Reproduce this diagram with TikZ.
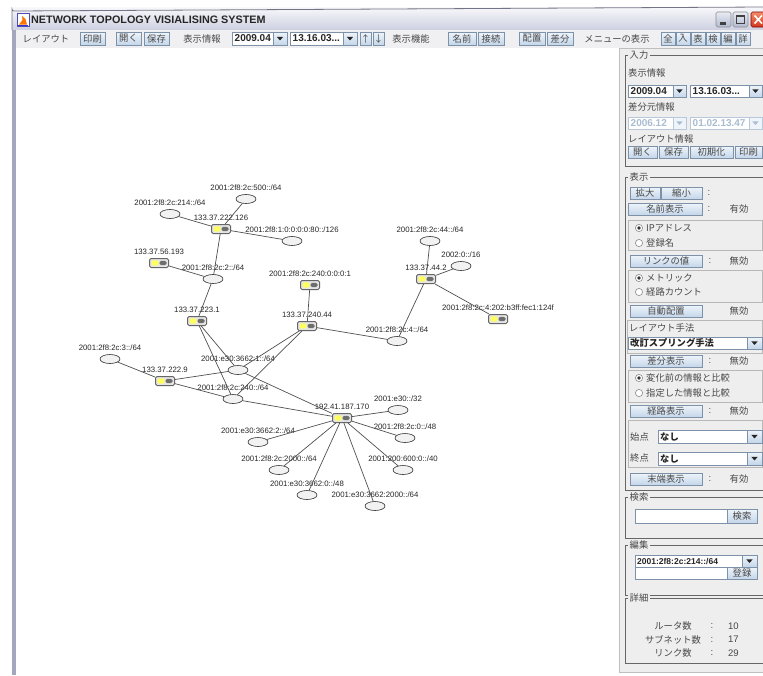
\documentclass[tikz,border=0pt]{standalone}
\usepackage{fontspec}
\setmainfont{Liberation Sans}
\newfontfamily\jp{Noto Sans CJK JP}
\newfontfamily\lib{Liberation Sans}
\usetikzlibrary{shapes.geometric}

\definecolor{panelbg}{HTML}{EEEEEE}
\definecolor{toolbg}{HTML}{F0F0F2}
\definecolor{btnbd}{HTML}{7D91A8}
\definecolor{btntop}{HTML}{EEF4FA}
\definecolor{btnbot}{HTML}{C4D6EA}
\definecolor{framec}{HTML}{666666}
\definecolor{uitext}{HTML}{484848}
\definecolor{edgec}{HTML}{505050}
\definecolor{ryellow}{HTML}{FFFF60}
\definecolor{rgray}{HTML}{6E6E6E}
\definecolor{winborder}{HTML}{A4A6BE}
\definecolor{titletop}{HTML}{F8F8FB}
\definecolor{titlebot}{HTML}{CDD0E0}
\definecolor{discol}{HTML}{A9BCD1}
\definecolor{disbd}{HTML}{B8C8D8}
\definecolor{closetop}{HTML}{F58A6A}
\definecolor{closebot}{HTML}{D2381E}
\definecolor{wbtop}{HTML}{E8ECF4}
\definecolor{wbbot}{HTML}{B2BAD2}

\tikzset{
  jt/.style={font=\jp\fontsize{9.3}{11}\selectfont, text=uitext, inner sep=0},
  lt/.style={font=\lib\fontsize{9.5}{11}\selectfont, text=uitext, inner sep=0},
  cbt/.style={font=\lib\bfseries\fontsize{10}{11}\selectfont, text=black!85, inner sep=0, anchor=west},
  btnbox/.style={draw=btnbd, top color=btntop, bottom color=btnbot, line width=0.6pt},
  fieldbox/.style={draw=btnbd, fill=white, line width=0.6pt},
  gframe/.style={draw=framec, line width=0.9pt},
  ibox/.style={draw=black!28, line width=0.6pt},
  subnet/.style={ellipse, draw=black!80, fill=black!5, line width=0.6pt,
    minimum width=20pt, minimum height=9pt, inner sep=0},
  router/.style={rectangle, rounded corners=1.5pt, draw=black!60, line width=1pt,
    fill=black!10, minimum width=19pt, minimum height=9pt, inner sep=0,
    path picture={
      \fill[ryellow] ([xshift=2pt,yshift=-2.6pt]path picture bounding box.west)
        rectangle ([xshift=-0.4pt,yshift=2.6pt]path picture bounding box.center);
      \fill[rgray] ([xshift=0.6pt,yshift=-2.2pt]path picture bounding box.center)
        rectangle ([xshift=-2pt,yshift=2.2pt]path picture bounding box.east);
    }},
  lbl/.style={font=\lib\fontsize{7.8}{9}\selectfont, text=black!85, inner sep=0.5pt},
  link/.style={draw=edgec, line width=0.7pt},
}

\newcommand\darr[2]{\fill[black!85] ({#1-3.2},{#2-1.6}) -- ({#1+3.2},{#2-1.6}) -- ({#1},{#2+1.9}) -- cycle;}
\newcommand\ubtn[6]{%
  \path[btnbox] (#2,#3) rectangle (#4,#5);
  \node[jt] (#1) at ({(#2+#4)/2},{(#3+#5)/2}) {#6};}
\newcommand\ucombo[7]{%
  \path[fieldbox] (#2,#3) rectangle (#4,#6);
  \path[btnbox] (#4,#3) rectangle (#5,#6);
  \darr{(#4+#5)/2}{(#3+#6)/2}
  \node[cbt] (#1) at ({#2+2.5},{(#3+#6)/2}) {#7};}
\newcommand\udcombo[7]{%
  \path[draw=disbd, fill=white, line width=0.6pt] (#2,#3) rectangle (#4,#6);
  \path[draw=disbd, fill=btntop, line width=0.6pt] (#4,#3) rectangle (#5,#6);
  \fill[discol] ({(#4+#5)/2-3.2},{(#3+#6)/2-1.6}) -- ({(#4+#5)/2+3.2},{(#3+#6)/2-1.6}) -- ({(#4+#5)/2},{(#3+#6)/2+1.9}) -- cycle;
  \node[cbt, text=discol] (#1) at ({#2+2.5},{(#3+#6)/2}) {#7};}
\newcommand\uradio[5]{%
  \draw[draw=black!45, fill=white, line width=0.6pt] (#2,#3) circle[radius=3.6];
  \ifnum#4=1 \fill[black!80] (#2,#3) circle[radius=1.8];\fi
  \node[jt, anchor=west] (#1) at ({#2+7},#3) {#5};}
\newcommand\ugroup[4]{%
  \draw[gframe] (625,#2) rectangle (775,#3);
  \node[jt, fill=panelbg, inner xsep=1.5pt, inner ysep=0.5pt, anchor=west] (#1) at (628,#2) {#4};}

\begin{document}
\begin{tikzpicture}[x=1pt,y=-1pt]
\useasboundingbox (0,0) rectangle (763,675);
\clip (0,0) rectangle (763,675);
\fill[white] (0,0) rectangle (763,675);

% ---------- window frame ----------
\shade[top color=titletop, bottom color=titlebot] (12,7) rectangle (763,30);
\draw[winborder!70!black, line width=0.8pt] (12,30) -- (12,9) arc[start angle=180, end angle=90, radius=2] -- (763,7);
\fill[winborder] (12,30) rectangle (15.5,675);
\fill[toolbg] (15.5,30) rectangle (763,48);
\fill[white] (15.5,48) rectangle (619,675);

% title icon
\draw[fill=white, draw=blue!40!gray, line width=0.6pt] (17,13) rectangle (29,26);
\fill[orange!90!red] (19,24.5) -- (27,24.5) -- (25.5,19) -- (22,16) -- (22.5,20) -- cycle;
\fill[blue!60!gray] (18,24.5) rectangle (28,25.5);
\node[font=\lib\bfseries\fontsize{10.8}{12}\selectfont, text=black!85, anchor=west, inner sep=0] (title) at (31,19.5) {NETWORK TOPOLOGY VISIALISING SYSTEM};

% window buttons
\path[draw=black!45, top color=wbtop, bottom color=wbbot, rounded corners=1.5pt, line width=0.6pt] (716,12) rectangle (731,27);
\fill[black!75] (720,22) rectangle (726,24.5);
\path[draw=black!45, top color=wbtop, bottom color=wbbot, rounded corners=1.5pt, line width=0.6pt] (733,12) rectangle (748,27);
\draw[black!75, line width=0.8pt] (736.5,15.5) rectangle (744.5,23.5);
\draw[black!75, line width=1.6pt] (736.5,16) -- (744.5,16);
\path[draw=red!50!black, top color=closetop, bottom color=closebot, rounded corners=1.5pt, line width=0.6pt] (751,12) rectangle (767,27);
\draw[white, line width=1.6pt] (754.5,15.5) -- (762,23.5) (754.5,23.5) -- (762,15.5);

% ---------- toolbar ----------
\node[jt] (tLayout) at (46,38.5) {レイアウト};
\ubtn{tPrint}{80}{32}{105}{45}{印刷}
\ubtn{tOpen}{116}{32}{141}{45}{開く}
\ubtn{tSave}{144}{32}{169}{45}{保存}
\node[jt] (tDisp) at (202,38.5) {表示情報};
\ucombo{tCa}{232}{32}{273}{287}{45}{2009.04}
\ucombo{tCb}{290}{32}{343}{357}{45}{13.16.03...}
\ubtn{tUp}{360}{32}{371}{45}{↑}
\ubtn{tDown}{373}{32}{384}{45}{↓}
\node[jt] (tFunc) at (411,38.5) {表示機能};
\ubtn{tName}{448}{32}{476}{45}{名前}
\ubtn{tConn}{478}{32}{504}{45}{接続}
\ubtn{tPlace}{519}{32}{545}{45}{配置}
\ubtn{tDiff}{547}{32}{573}{45}{差分}
\node[jt] (tMenu) at (617,38.5) {メニューの表示};
\ubtn{tAll}{661}{32}{675}{45}{全}
\ubtn{tIn}{676}{32}{690}{45}{入}
\ubtn{tTab}{691}{32}{705}{45}{表}
\ubtn{tSrch}{706}{32}{720}{45}{検}
\ubtn{tEd}{721}{32}{735}{45}{編}
\ubtn{tDet}{736}{32}{750}{45}{詳}

% ---------- right panel ----------
\fill[panelbg] (619,48) rectangle (763,672);
\draw[black!25, line width=0.6pt] (763,48) -- (619,48) -- (619,672) -- (763,672);

\ugroup{gIn}{55}{166}{入力}
\node[jt, anchor=west] (lDisp) at (628,73) {表示情報};
\ucombo{pCa}{628}{85}{673}{686}{97}{2009.04}
\ucombo{pCb}{690}{85}{749}{762}{97}{13.16.03...}
\node[jt, anchor=west] (lDiff) at (628,107) {差分元情報};
\udcombo{pDa}{628}{117}{673}{686}{129}{2006.12}
\udcombo{pDb}{690}{117}{749}{762}{129}{01.02.13.47}
\node[jt, anchor=west] (lLay) at (628,139) {レイアウト情報};
\ubtn{pOpen}{628}{146}{657}{158}{開く}
\ubtn{pSave}{659}{146}{688}{158}{保存}
\ubtn{pInit}{690}{146}{733}{158}{初期化}
\ubtn{pPrint}{735}{146}{762}{158}{印刷}

\ugroup{gShow}{177}{490}{表示}
\ubtn{pZin}{630}{187}{660}{199}{拡大}
\ubtn{pZout}{661}{187}{702}{199}{縮小}
\node[lt] (ca) at (709,193) {:};
\ubtn{pNameD}{628}{203}{702}{215}{名前表示}
\node[lt] (cb) at (709,209) {:};
\node[jt] (va) at (739,209) {有効};
\draw[ibox] (628,220) rectangle (762,250);
\uradio{rIP}{639}{228}{1}{IPアドレス}
\uradio{rReg}{639}{243}{0}{登録名}
\ubtn{pLink}{630}{255}{702}{267}{リンクの値}
\node[lt] (cc) at (710,261) {:};
\node[jt] (vb) at (739,261) {無効};
\draw[ibox] (628,270) rectangle (762,302);
\uradio{rMet}{639}{278}{1}{メトリック}
\uradio{rCnt}{639}{292}{0}{経路カウント}
\ubtn{pAuto}{630}{305}{702}{317}{自動配置}
\node[jt] (vc) at (739,311) {無効};
\draw[ibox] (627,320) rectangle (762,353);
\node[jt, anchor=west] (lMeth) at (629,328) {レイアウト手法};
\path[fieldbox] (628,337) rectangle (747,349);
\path[btnbox] (747,337) rectangle (762,349);
\darr{754.5}{343}
\node[jt, font=\jp\bfseries\fontsize{9.3}{11}\selectfont, text=black!85, anchor=west] (mMeth) at (630,343) {改訂スプリング手法};
\ubtn{pDiffD}{630}{355}{702}{367}{差分表示}
\node[lt] (cd) at (710,361) {:};
\node[jt] (vd) at (739,361) {無効};
\draw[ibox] (628,370) rectangle (762,402);
\uradio{rBef}{639}{378}{1}{変化前の情報と比較}
\uradio{rSpec}{639}{393}{0}{指定した情報と比較}
\ubtn{pRoute}{630}{405}{702}{417}{経路表示}
\node[lt] (ce) at (710,411) {:};
\node[jt] (ve) at (739,411) {無効};
\draw[ibox] (628,420) rectangle (762,467);
\node[jt, anchor=west] (lStart) at (630,437) {始点};
\path[fieldbox] (658,430) rectangle (747,443);
\path[btnbox] (747,430) rectangle (762,443);
\darr{754.5}{436.5}
\node[jt, font=\jp\bfseries\fontsize{9.3}{11}\selectfont, text=black!85, anchor=west] (mStart) at (660,436.5) {なし};
\node[jt, anchor=west] (lEnd) at (630,458) {終点};
\path[fieldbox] (658,452) rectangle (747,465);
\path[btnbox] (747,452) rectangle (762,465);
\darr{754.5}{458.5}
\node[jt, font=\jp\bfseries\fontsize{9.3}{11}\selectfont, text=black!85, anchor=west] (mEnd) at (660,458.5) {なし};
\ubtn{pTerm}{630}{473}{702}{485}{末端表示}
\node[lt] (cf) at (710,479) {:};
\node[jt] (vf) at (739,479) {有効};

\ugroup{gSearch}{497}{538}{検索}
\path[fieldbox] (635,509) rectangle (727,523);
\ubtn{pSearch}{727}{509}{757}{523}{検索}

\ugroup{gEdit}{545}{595}{編集}
\path[fieldbox] (635,555) rectangle (742,567);
\path[btnbox] (742,555) rectangle (757,567);
\darr{749.5}{561}
\node[cbt, font=\lib\bfseries\fontsize{8.5}{10}\selectfont] (mEdit) at (637,561) {2001:2f8:2c:214::/64};
\path[fieldbox] (635,567) rectangle (727,579);
\ubtn{pReg}{727}{567}{757}{579}{登録}

\ugroup{gDet}{598}{663}{詳細}
\node[jt] (dRouter) at (673,626) {ルータ数};
\node[lt] (dca) at (712,626) {:};
\node[lt, anchor=west] (dva) at (728,626) {10};
\node[jt] (dSub) at (673,639.5) {サブネット数};
\node[lt] (dcb) at (712,639.5) {:};
\node[lt, anchor=west] (dvb) at (728,639.5) {17};
\node[jt] (dLink) at (673,653) {リンク数};
\node[lt] (dcc) at (712,653) {:};
\node[lt, anchor=west] (dvc) at (728,653) {29};

% ---------- topology ----------
\node[router, label={[lbl,label distance=3pt]above:133.37.222.126}] (r1) at (221,229) {};
\node[router, label={[lbl,label distance=3pt]above:133.37.56.193}] (r2) at (159,263) {};
\node[router, label={[lbl,label distance=3pt]above:2001:2f8:2c:240:0:0:0:1}] (r3) at (310,285) {};
\node[router, label={[lbl,label distance=3pt]above:133.37.223.1}] (r4) at (197,321) {};
\node[router, label={[lbl,label distance=3pt]above:133.37.240.44}] (r5) at (307,326) {};
\node[router, label={[lbl,label distance=3pt]above:133.37.44.2}] (r6) at (426,279) {};
\node[router, label={[lbl,label distance=3pt]above:2001:2f8:2c:4:202:b3ff:fec1:124f}] (r7) at (498,319) {};
\node[router, label={[lbl,label distance=3pt]above:133.37.222.9}] (r8) at (165,381) {};
\node[router, label={[lbl,label distance=3pt]above:192.41.187.170}] (r9) at (342,418) {};

\node[subnet, label={[lbl,label distance=3pt]above:2001:2f8:2c:500::/64}] (s1) at (246,199) {};
\node[subnet, label={[lbl,label distance=3pt]above:2001:2f8:2c:214::/64}] (s2) at (170,214) {};
\node[subnet, label={[lbl,label distance=3pt]above:2001:2f8:1:0:0:0:0:80::/126}] (s3) at (292,241) {};
\node[subnet, label={[lbl,label distance=3pt]above:2001:2f8:2c:2::/64}] (s4) at (213,279) {};
\node[subnet, label={[lbl,label distance=3pt]above:2001:2f8:2c:44::/64}] (s5) at (430,241) {};
\node[subnet, label={[lbl,label distance=3pt]above:2002:0::/16}] (s6) at (461,266) {};
\node[subnet, label={[lbl,label distance=3pt]above:2001:2f8:2c:4::/64}] (s7) at (397,341) {};
\node[subnet, label={[lbl,label distance=3pt]above:2001:2f8:2c:3::/64}] (s8) at (110,359) {};
\node[subnet, label={[lbl,label distance=3pt]above:2001:e30:3662:1::/64}] (s9) at (238,370) {};
\node[subnet, label={[lbl,label distance=3pt]above:2001:2f8:2c:240::/64}] (s10) at (233,399) {};
\node[subnet, label={[lbl,label distance=3pt]above:2001:e30::/32}] (s11) at (398,410) {};
\node[subnet, label={[lbl,label distance=3pt]above:2001:2f8:2c:0::/48}] (s12) at (405,438) {};
\node[subnet, label={[lbl,label distance=3pt]above:2001:200:600:0::/40}] (s13) at (403,470) {};
\node[subnet, label={[lbl,label distance=3pt]above:2001:e30:3662:2::/64}] (s14) at (258,442) {};
\node[subnet, label={[lbl,label distance=3pt]above:2001:2f8:2c:2000::/64}] (s15) at (279,470) {};
\node[subnet, label={[lbl,label distance=3pt]above:2001:e30:3662:0::/48}] (s16) at (307,495) {};
\node[subnet, label={[lbl,label distance=3pt]above:2001:e30:3662:2000::/64}] (s17) at (375,506) {};

\draw[link] (r1) -- (s1);
\draw[link] (r1) -- (s2);
\draw[link] (r1) -- (s3);
\draw[link] (r1) -- (s4);
\draw[link] (r2) -- (s4);
\draw[link] (s4) -- (r4);
\draw[link] (r4) -- (s9);
\draw[link] (r4) -- (s10);
\draw[link] (r5) -- (s9);
\draw[link] (r5) -- (s10);
\draw[link] (r5) -- (s7);
\draw[link] (r5) -- (r3);
\draw[link] (r6) -- (s5);
\draw[link] (r6) -- (s6);
\draw[link] (r6) -- (s7);
\draw[link] (r6) -- (r7);
\draw[link] (r8) -- (s8);
\draw[link] (r8) -- (s9);
\draw[link] (r8) -- (s10);
\draw[link] (r9) -- (s9);
\draw[link] (r9) -- (s10);
\draw[link] (r9) -- (s11);
\draw[link] (r9) -- (s12);
\draw[link] (r9) -- (s13);
\draw[link] (r9) -- (s14);
\draw[link] (r9) -- (s15);
\draw[link] (r9) -- (s16);
\draw[link] (r9) -- (s17);
\end{tikzpicture}
\end{document}
